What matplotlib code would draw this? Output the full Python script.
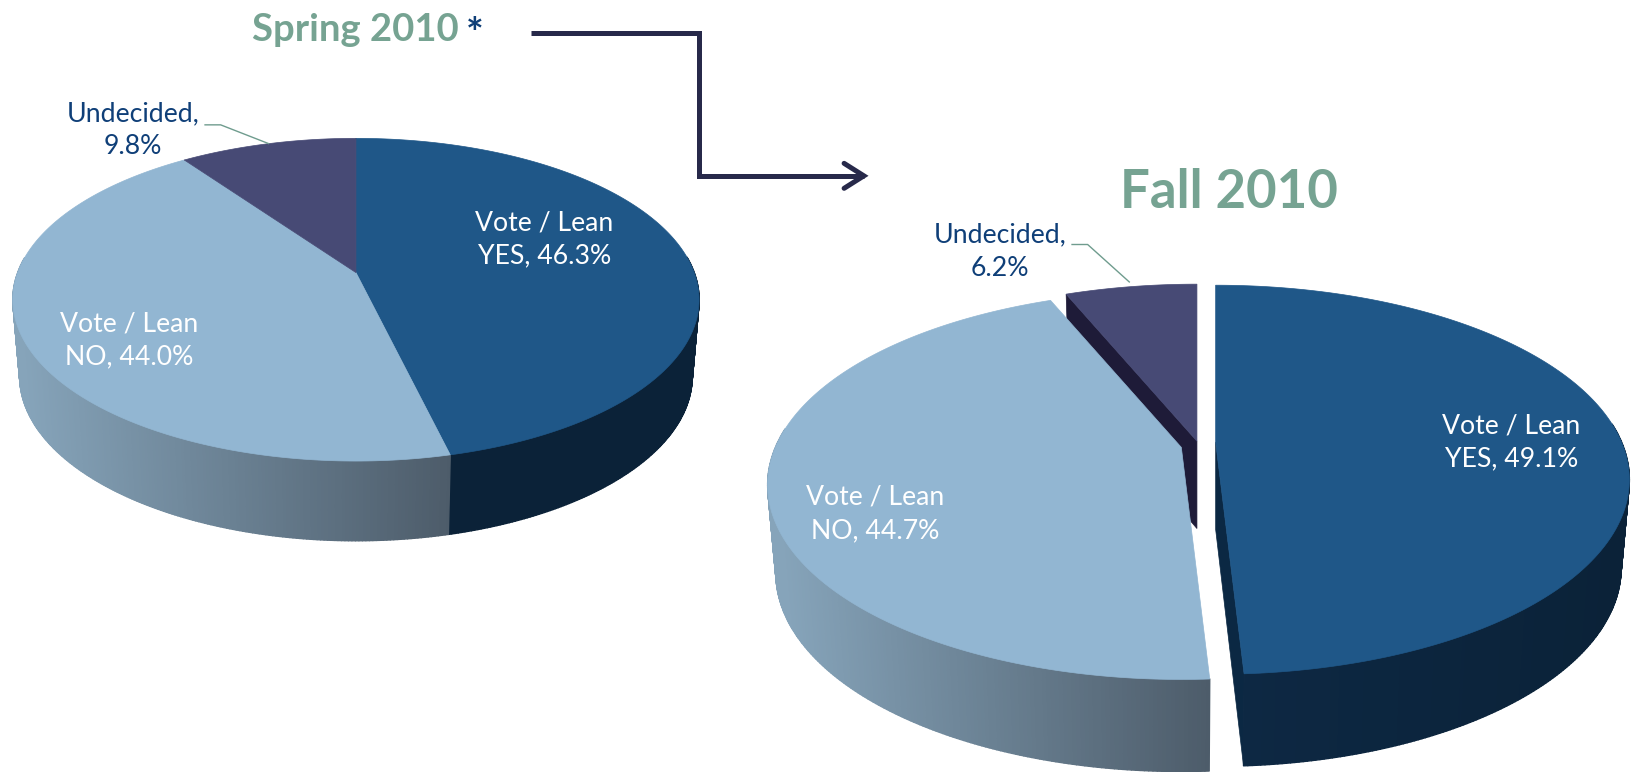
import numpy as np
import matplotlib
matplotlib.use('Agg')
import matplotlib.pyplot as plt
from matplotlib.collections import PolyCollection
from matplotlib.colors import to_rgb

# values
categories = ['YES', 'NO', 'Undecided']
spring_values = [46.3, 44.0, 9.8]
fall_values = [49.1, 44.7, 6.2]

top_colors = ['#1f5788', '#92b6d2', '#474a75']
side_left = ['#0d2843', '#86a4ba', '#1e1b38']
side_right = ['#0b2238', '#4d5c6a', '#1e1b38']
green = '#76a392'
navy = '#0f3f78'
arrow_color = '#27294a'

plt.rcParams['font.family'] = ['Lato', 'DejaVu Sans']

fig = plt.figure(figsize=(16.32, 7.72), dpi=100)
ax = fig.add_axes([0, 0, 1, 1])
ax.set_xlim(0, 1568)
ax.set_ylim(742, 0)
ax.axis('off')


def project(theta, p, bottom=False):
    # theta clockwise from 12 o'clock, perspective circle
    u = np.sin(theta)
    v = -np.cos(theta)
    w = 1 - p['k'] * v
    if bottom:
        x = p['rx'] * 0.98 * u / w
        y = p['off'] + p['ry'] * 1.02 * v / w
    else:
        x = p['rx'] * u / w
        y = p['ry'] * v / w
    return x, y


def slice_angles(values):
    total = sum(values)
    edges = np.cumsum([0] + list(values)) / total * 2 * np.pi
    return edges[:-1], edges[1:]


def draw_side(start, end, apex, p, i, x_range):
    th = np.linspace(start, end, max(int(np.degrees(end - start) * 2), 2))
    polys, cols = [], []
    c0, c1 = np.array(to_rgb(side_left[i])), np.array(to_rgb(side_right[i]))
    for a, b in zip(th[:-1], th[1:]):
        if -np.cos((a + b) / 2) < -0.1:
            continue
        xa, ya = project(a, p)
        xb, yb = project(b, p)
        xc, yc = project(b, p, True)
        xd, yd = project(a, p, True)
        poly = [(apex[0] + xa, apex[1] + ya), (apex[0] + xb, apex[1] + yb),
                (apex[0] + xc, apex[1] + yc), (apex[0] + xd, apex[1] + yd)]
        t = (apex[0] + (xa + xb) / 2 - x_range[0]) / (x_range[1] - x_range[0])
        t = np.clip(t, 0, 1)
        polys.append(poly)
        cols.append(c0 + (c1 - c0) * t)
    if polys:
        ax.add_collection(PolyCollection(polys, facecolors=cols, edgecolors=cols, linewidths=1))


def draw_face(theta, apex, p, color):
    x, y = project(theta, p)
    xb, yb = project(theta, p, True)
    ax.fill([apex[0], apex[0] + x, apex[0] + xb, apex[0]],
            [apex[1], apex[1] + y, apex[1] + yb, apex[1] + p['off']],
            color=color, lw=0.5)


def draw_top(start, end, apex, p, color):
    th = np.linspace(start, end, 200)
    x, y = project(th, p)
    ax.fill(np.r_[apex[0], apex[0] + x], np.r_[apex[1], apex[1] + y], color=color, lw=0.5)


# Spring pie
spring = {'rx': 325, 'ry': 150.7, 'k': 0.168, 'off': 73}
spring_apex = (342, 262)
starts, ends = slice_angles(spring_values)
for i in [0, 1, 2]:
    draw_side(starts[i], ends[i], spring_apex, spring, i, (20, 432))
for i in [0, 1, 2]:
    draw_top(starts[i], ends[i], spring_apex, spring, top_colors[i])

# Fall pie, slices pulled apart
fall = {'rx': 390, 'ry': 180, 'k': 0.193, 'off': 84}
fall_apex = [(1168, 425), (1135, 430), (1150, 424)]
starts, ends = slice_angles(fall_values)
draw_face(starts[2], fall_apex[2], fall, side_left[2])
draw_top(starts[2], ends[2], fall_apex[2], fall, top_colors[2])
draw_face(ends[0], fall_apex[0], fall, '#0b2843')
draw_side(starts[0], ends[0], fall_apex[0], fall, 0, (1197, 1555))
draw_top(starts[0], ends[0], fall_apex[0], fall, top_colors[0])
draw_side(starts[1], ends[1], fall_apex[1], fall, 1, (750, 1161))
draw_top(starts[1], ends[1], fall_apex[1], fall, top_colors[1])

# leader lines
ax.plot([197, 212, 258], [120, 120, 138], color='#6f9c8e', lw=1)
ax.plot([1030, 1045, 1085], [235, 235, 271], color='#6f9c8e', lw=1)

# arrow between the two pies
ax.plot([510, 672, 672, 830], [32, 32, 169, 169], color=arrow_color, lw=3.6,
        solid_joinstyle='miter', solid_capstyle='butt')
ax.plot([811, 830, 811], [157, 169, 181], color=arrow_color, lw=3.6,
        solid_joinstyle='miter', solid_capstyle='round')

# titles
ax.text(341, 29, 'Spring 2010', color=green, fontsize=27.5, fontweight='bold', ha='center', va='center')
ax.text(456, 35, '*', color=navy, fontsize=30, fontweight='bold', ha='center', va='center')
ax.text(1181, 185, 'Fall 2010', color=green, fontsize=38, fontweight='bold', ha='center', va='center')

# labels
fs = 19.2
ls = 1.4
ax.text(523, 230, f'Vote / Lean\nYES, {spring_values[0]:.1f}%', color='white', fontsize=fs, ha='center', va='center', linespacing=ls)
ax.text(124, 327, f'Vote / Lean\nNO, {spring_values[1]:.1f}%', color='white', fontsize=fs, ha='center', va='center', linespacing=ls)
ax.text(128, 125, f'Undecided,\n{spring_values[2]:.1f}%', color=navy, fontsize=fs, ha='center', va='center', linespacing=ls)
ax.text(1452, 425, f'Vote / Lean\nYES, {fall_values[0]:.1f}%', color='white', fontsize=fs, ha='center', va='center', linespacing=ls)
ax.text(841, 494, f'Vote / Lean\nNO, {fall_values[1]:.1f}%', color='white', fontsize=fs, ha='center', va='center', linespacing=ls)
ax.text(961, 242, f'Undecided,\n{fall_values[2]:.1f}%', color=navy, fontsize=fs, ha='center', va='center', linespacing=ls)

fig.savefig('out.png', dpi=100)
